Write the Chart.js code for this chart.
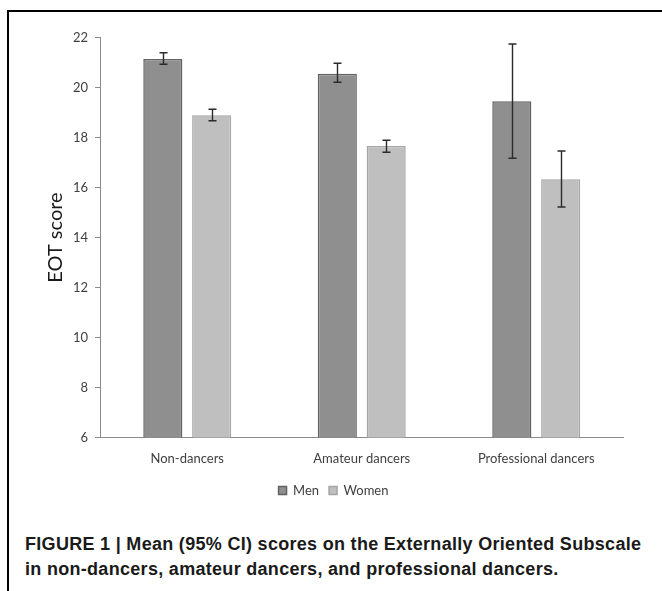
<!DOCTYPE html>
<html>
<head>
<meta charset="utf-8">
<script src="https://cdn.jsdelivr.net/npm/chart.js@4.4.0/dist/chart.umd.min.js"></script>
<style>
  html, body { margin: 0; padding: 0; background: #fff; }
  body { width: 662px; height: 591px; position: relative; overflow: hidden; }
  #frame { position: absolute; left: 7px; top: 10px; right: -5px; bottom: -5px;
           border-top: 2.5px solid #000; border-left: 2.5px solid #000; }
  #chartBox { position: absolute; left: 0; top: 0; }
  #caption { position: absolute; left: 25px; top: 532px; width: 636px; white-space: nowrap;
             font-family: "Liberation Sans", Arial, sans-serif; font-weight: bold;
             font-size: 18px; line-height: 25px; letter-spacing: 0.3px; color: #1a1a1a; }
</style>
</head>
<body>
<div id="frame"></div>
<div id="chartBox"><canvas id="eotChart" width="662" height="507"></canvas></div>
<div id="caption">FIGURE 1 | Mean (95% CI) scores on the Externally Oriented Subscale<br>in non-dancers, amateur dancers, and professional dancers.</div>
<script>
// Data
var groups = ['Non-dancers', 'Amateur dancers', 'Professional dancers'];
var menMean = [21.14, 20.55, 19.45];
var menLow = [20.93, 20.21, 17.17];
var menHigh = [21.39, 20.97, 21.74];
var womenMean = [18.89, 17.66, 16.33];
var womenLow = [18.67, 17.41, 15.22];
var womenHigh = [19.13, 17.89, 17.46];
var yTicks = [6, 8, 10, 12, 14, 16, 18, 20, 22];

var lows = [menLow, womenLow];
var highs = [menHigh, womenHigh];

//Error bars drawn on top of each bar
var errorBars = {
	id: 'errorBars',
	afterDatasetsDraw: function(chart)
	{
		var ctx = chart.ctx;
		var y = chart.scales.y;
		ctx.save();
		ctx.strokeStyle = '#2b2b2b';
		ctx.lineWidth = 1.4;
		chart.data.datasets.forEach(function(ds, d)
		{
			var meta = chart.getDatasetMeta(d);
			meta.data.forEach(function(bar, i)
			{
				var x = Math.round(bar.x) + 0.5;
				var yLo = y.getPixelForValue(lows[d][i]);
				var yHi = y.getPixelForValue(highs[d][i]);
				ctx.beginPath();
				ctx.moveTo(x, yLo);
				ctx.lineTo(x, yHi);
				ctx.moveTo(x - 4, yLo);
				ctx.lineTo(x + 4, yLo);
				ctx.moveTo(x - 4, yHi);
				ctx.lineTo(x + 4, yHi);
				ctx.stroke();
			});
		});
		ctx.restore();
	}
};

var ctx = document.getElementById('eotChart').getContext('2d');

var eotChart = new Chart(ctx, {
	type: 'bar',
	data: {
		labels: groups,
		datasets: [{
			label: 'Men',
			data: menMean,
			backgroundColor: '#8f8f8f',
			borderColor: '#626262',
			borderWidth: 1.5
		}, {
			label: 'Women',
			data: womenMean,
			backgroundColor: '#bfbfbf',
			borderColor: '#a6a6a6',
			borderWidth: 1.5
		}]
	},
	options: {
		responsive: false,
		animation: false,
		categoryPercentage: 0.56,
		barPercentage: 0.8,
		// left padding keeps the legend centred like the original
		layout: { padding: { left: 43.5, right: 38.5, top: 37.5, bottom: 0 } },
		plugins: {
			tooltip: { enabled: false },
			legend: {
				position: 'bottom',
				labels: {
					boxWidth: 8,
					boxHeight: 8,
					padding: 10,
					color: '#404040',
					font: { family: 'Lato', size: 13 }
				}
			}
		},
		scales: {
			x: {
				grid: { display: false, drawTicks: false },
				border: { color: '#8a8a8a', width: 1 },
				ticks: { color: '#404040', padding: 14, font: { family: 'Lato', size: 13 } },
				afterFit: function(s) { s.height = 36.5; }
			},
			y: {
				min: 6,
				max: 22,
				afterBuildTicks: function(s) { s.ticks = yTicks.map(function(v) { return { value: v }; }); },
				grid: { drawOnChartArea: false, drawTicks: true, tickLength: 5, color: '#8a8a8a' },
				border: { color: '#8a8a8a', width: 1 },
				ticks: { color: '#404040', padding: 7, font: { family: 'Lato', size: 13 } },
				title: {
					display: true,
					text: 'EOT score',
					color: '#1a1a1a',
					font: { family: 'Lato', size: 20 },
					padding: { top: 0, bottom: 0 }
				},
				afterFit: function(s) { s.width = 56.5; }
			}
		}
	},
	plugins: [errorBars]
});
</script>
</body>
</html>
